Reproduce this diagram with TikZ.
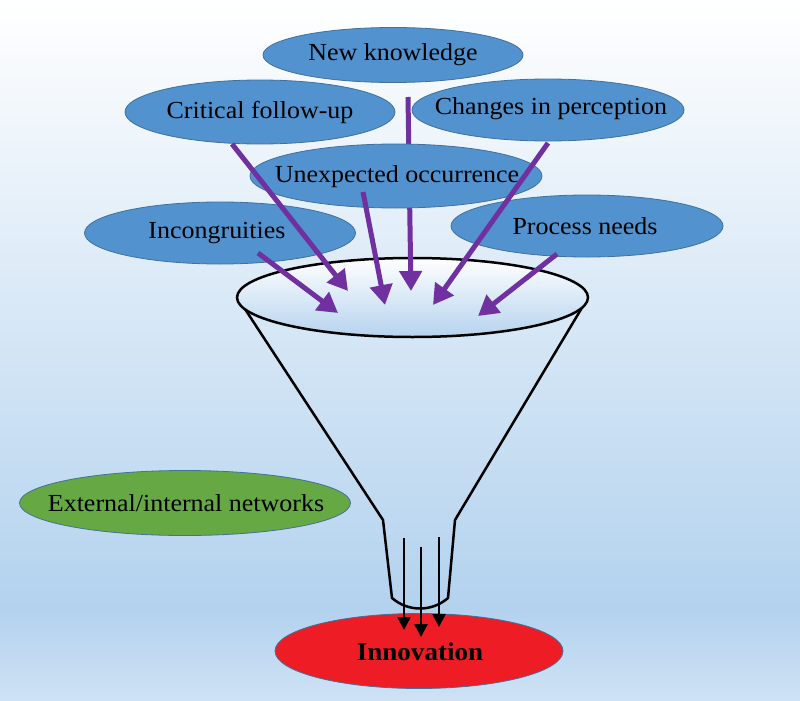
\documentclass[tikz,border=0pt]{standalone}
\usepackage{fontspec}
\setmainfont{Liberation Serif}[FakeStretch=1.06]
\usetikzlibrary{shapes.geometric,arrows.meta}
\definecolor{bgdark}{HTML}{B3D2EE}
\definecolor{bgbot}{HTML}{CFE2F5}
\definecolor{ovalblue}{HTML}{5192CF}
\definecolor{ovalline}{HTML}{41719C}
\definecolor{ovalgreen}{HTML}{66A844}
\definecolor{ovalred}{HTML}{EE1C25}
\definecolor{arrowpurple}{HTML}{7030A0}
\definecolor{funneltop}{HTML}{B5D3EE}
\begin{document}
\begin{tikzpicture}[x=1pt,y=-1pt,
  oval/.style={ellipse, draw=ovalline, line width=0.8pt, fill=ovalblue, inner sep=0pt},
  ovaltext/.style={inner sep=0pt, font=\fontsize{24.5}{28}\selectfont},
  feed/.style={draw=arrowpurple, line width=5pt, -{Triangle[length=20pt,width=22pt]}},
  flow/.style={draw=black, line width=2.5pt, -{Triangle[length=13pt,width=13pt]}},
  funnelline/.style={draw=black, line width=2.5pt, line join=round}]
\useasboundingbox (0,0) rectangle (800,701);
\shade[top color=white, bottom color=bgdark] (0,0) rectangle (800,610);
\shade[top color=bgdark, bottom color=bgbot] (0,610) rectangle (800,701);
% funnel body
\draw[funnelline] (243,306) -- (383,520) -- (392,598)
  .. controls (408,612) and (432,612) .. (448,598) -- (455,520) -- (583,306);
% funnel top
\shadedraw[top color=white, bottom color=funneltop, draw=black, line width=2.5pt]
  (412.5,297.5) ellipse [x radius=175.5, y radius=39.5];
% named points in the funnel
\coordinate (tipcrit) at (348,291);
\coordinate (tipunx) at (385,305);
\coordinate (tipnewk) at (411,291);
\coordinate (tipchg) at (433,305);
\coordinate (tipinc) at (338,313);
\coordinate (tipproc) at (478,316);
\coordinate (outA) at (404,538);
\coordinate (outB) at (421,547);
\coordinate (outC) at (439,537);
% source ellipses
\node[oval, minimum width=260pt, minimum height=55pt] (newk) at (393,55) {};
\node[ovaltext] (newkT) at (newk) {New knowledge};
\node[oval, minimum width=270pt, minimum height=64pt] (crit) at (260,112) {};
\node[ovaltext] (critT) at (crit) {Critical follow-up};
\node[oval, minimum width=272pt, minimum height=62pt] (chg) at (548,110) {};
\node[ovaltext] (chgT) at (551,109) {Changes in perception};
\coordinate (srcnewk) at (408,97);
\draw[feed] (srcnewk) -- (tipnewk);
\node[oval, minimum width=292pt, minimum height=64pt] (unx) at (396,176) {};
\node[ovaltext] (unxT) at (397,177) {Unexpected occurrence};
\node[oval, minimum width=271pt, minimum height=62pt] (inc) at (220,233) {};
\node[ovaltext] (incT) at (217,233) {Incongruities};
\node[oval, minimum width=272pt, minimum height=62pt] (proc) at (587,226) {};
\node[ovaltext] (procT) at (585,226) {Process needs};
\node[oval, fill=ovalgreen, minimum width=331pt, minimum height=65pt] (ext) at (185,503) {};
\node[ovaltext] (extT) at (186,503) {External/internal networks};
% feed arrows
\coordinate (srccrit) at (232,144);
\coordinate (srcunx) at (363,192);
\coordinate (srcchg) at (548,143);
\coordinate (srcinc) at (258,253);
\coordinate (srcproc) at (557,254);
\draw[feed] (srccrit) -- (tipcrit);
\draw[feed] (srcunx) -- (tipunx);
\draw[feed] (srcchg) -- (tipchg);
\draw[feed] (srcinc) -- (tipinc);
\draw[feed] (srcproc) -- (tipproc);
% outcome
\node[oval, fill=ovalred, minimum width=288pt, minimum height=75pt] (innov) at (419,651) {};
\node[ovaltext, font=\fontsize{25.5}{28}\selectfont\bfseries] (innovT) at (420,652) {Innovation};
\draw[flow] (outA) -- (outA |- 0,630);
\draw[flow] (outB) -- (outB |- 0,637);
\draw[flow] (outC) -- (outC |- 0,627);
\end{tikzpicture}
\end{document}
